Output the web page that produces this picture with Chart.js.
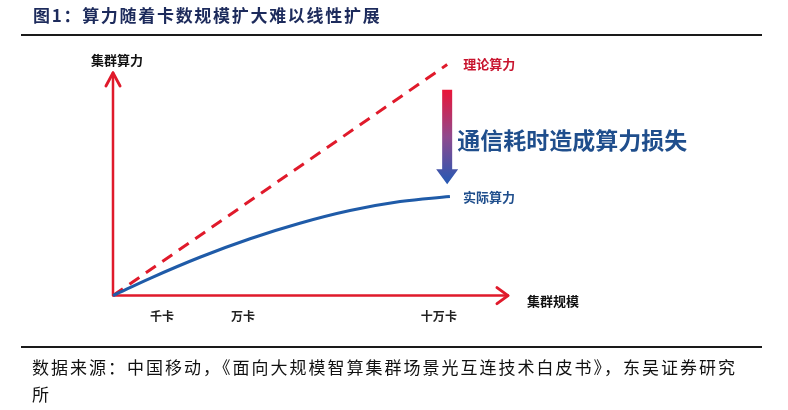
<!DOCTYPE html>
<html>
<head>
<meta charset="utf-8">
<script src="https://cdn.jsdelivr.net/npm/chart.js@4/dist/chart.umd.min.js"></script>
<style>
  body { margin: 0; background: #fff; }
  #wrap { position: relative; width: 788px; height: 410px; overflow: hidden; }
  #chart { position: absolute; left: 0; top: 0; }
  .title { position: absolute; left: 33px; top: 5px; font: bold 17px/20px 'Noto Sans CJK SC', sans-serif; letter-spacing: 1.7px; color: #1d2b5c; white-space: nowrap; }
  .rule { position: absolute; left: 21px; width: 741px; height: 2px; background: #1a1a1a; }
  .source { position: absolute; left: 32px; top: 353px; font: 17px/27px 'Noto Sans CJK SC', sans-serif; letter-spacing: 2px; color: #111; white-space: nowrap; }
</style>
</head>
<body>
<div id="wrap">
  <canvas id="chart" width="788" height="410"></canvas>
  <div class="title">图1：算力随着卡数规模扩大难以线性扩展</div>
  <div class="rule" style="top:34px"></div>
  <div class="rule" style="top:346px"></div>
  <div class="source">数据来源：中国移动，《面向大规模智算集群场景光互连技术白皮书》，东吴证券研究<br>所</div>
</div>
<script>
// cluster size (x) and compute (y), units
const tickPos = [12.4, 32.9, 82.5];
const tickLabels = ["千卡", "万卡", "十万卡"];

const theoryX = [0, 84.6];
const theoryPower = [0, 100];

const actualX = [0, 9.4, 22.0, 34.7, 47.3, 60.0, 72.7, 85.3];
const actualPower = [0, 7.5, 16.6, 24.6, 31.3, 36.8, 40.7, 42.9];

// axis arrow ends and the loss arrow (same units)
const xAxisEnd = 100;
const yAxisEnd = 96.4;
const lossArrow = { x: 84.6, top: 89.1, tip: 48.2 };

const RED = '#e01a2b';
const BLUE = '#1f5ba8';
const NAVY = '#1f4e8c';

Chart.defaults.font.family = "'Noto Sans CJK SC', sans-serif";

function toPoints(xs, ys) {
  return xs.map((x, i) => ({ x: x, y: ys[i] }));
}

// axes with arrow heads, labels, and the gradient arrow
const decorPlugin = {
  id: 'decor',
  beforeDatasetsDraw(chart) {
    const ctx = chart.ctx;
    const xs = chart.scales.x, ys = chart.scales.y;
    const ox = xs.getPixelForValue(0), oy = ys.getPixelForValue(0);
    const xe = xs.getPixelForValue(xAxisEnd), ye = ys.getPixelForValue(yAxisEnd);
    ctx.save();
    ctx.strokeStyle = RED;
    ctx.lineWidth = 2.5;
    ctx.lineCap = 'round';
    ctx.lineJoin = 'round';
    ctx.beginPath();
    ctx.moveTo(xe, oy); ctx.lineTo(ox, oy); ctx.lineTo(ox, ye);
    ctx.stroke();
    ctx.lineWidth = 3;
    ctx.beginPath();
    ctx.moveTo(ox - 7, ye + 13); ctx.lineTo(ox, ye); ctx.lineTo(ox + 7, ye + 13);
    ctx.moveTo(xe - 11, oy - 8); ctx.lineTo(xe, oy); ctx.lineTo(xe - 11, oy + 8);
    ctx.stroke();
    ctx.restore();
  },
  afterDatasetsDraw(chart) {
    const ctx = chart.ctx;
    const xs = chart.scales.x, ys = chart.scales.y;
    const ox = xs.getPixelForValue(0), oy = ys.getPixelForValue(0);
    const xe = xs.getPixelForValue(xAxisEnd), ye = ys.getPixelForValue(yAxisEnd);
    ctx.save();
    ctx.textBaseline = 'middle';
    ctx.font = "bold 13px 'Noto Sans CJK SC'";
    ctx.fillStyle = '#111';
    ctx.textAlign = 'center';
    ctx.fillText('集群算力', ox + 4, ye - 13);
    ctx.textAlign = 'left';
    ctx.fillText('集群规模', xe + 19, oy + 5);

    const n = theoryX.length - 1;
    const tx = xs.getPixelForValue(theoryX[n]), ty = ys.getPixelForValue(theoryPower[n]);
    ctx.fillStyle = '#c8142e';
    ctx.fillText('理论算力', tx + 16, ty);
    const m = actualX.length - 1;
    const ax = xs.getPixelForValue(actualX[m]), ay = ys.getPixelForValue(actualPower[m]);
    ctx.fillStyle = NAVY;
    ctx.fillText('实际算力', ax + 13, ay + 1);

    // loss arrow
    const lx = xs.getPixelForValue(lossArrow.x);
    const top = ys.getPixelForValue(lossArrow.top), tip = ys.getPixelForValue(lossArrow.tip);
    const grad = ctx.createLinearGradient(0, top, 0, tip);
    grad.addColorStop(0, '#ea1538');
    grad.addColorStop(0.5, '#8f4a8e');
    grad.addColorStop(1, '#2459b4');
    ctx.fillStyle = grad;
    ctx.beginPath();
    ctx.moveTo(lx - 5, top);
    ctx.lineTo(lx + 5, top);
    ctx.lineTo(lx + 5, tip - 15);
    ctx.lineTo(lx + 11, tip - 15);
    ctx.lineTo(lx, tip);
    ctx.lineTo(lx - 11, tip - 15);
    ctx.lineTo(lx - 5, tip - 15);
    ctx.closePath();
    ctx.fill();

    ctx.font = "bold 23px 'Noto Sans CJK SC'";
    ctx.fillStyle = NAVY;
    ctx.fillText('通信耗时造成算力损失', lx + 10, (top + tip) / 2 + 3);
    ctx.restore();
  }
};

new Chart(document.getElementById('chart'), {
  type: 'line',
  data: {
    datasets: [
      {
        label: '实际算力',
        data: toPoints(actualX, actualPower),
        borderColor: BLUE,
        borderWidth: 3,
        pointRadius: 0,
        tension: 0.4,
        fill: false,
        clip: false
      },
      {
        label: '理论算力',
        data: toPoints(theoryX, theoryPower),
        borderColor: RED,
        borderWidth: 3,
        borderDash: [12, 8],
        pointRadius: 0,
        fill: false,
        clip: false
      }
    ]
  },
  options: {
    responsive: false,
    animation: false,
    events: [],
    layout: { padding: { left: 113, right: 280, top: 53, bottom: 72 } },
    plugins: { legend: { display: false }, tooltip: { enabled: false } },
    scales: {
      x: {
        type: 'linear',
        min: 0,
        max: 100,
        grid: { display: false, drawTicks: false },
        border: { display: false },
        afterBuildTicks: (scale) => { scale.ticks = tickPos.map(v => ({ value: v })); },
        ticks: {
          padding: 14,
          autoSkip: false,
          maxRotation: 0,
          color: '#222',
          font: { size: 12, weight: 'bold' },
          callback: (v) => tickLabels[tickPos.indexOf(v)]
        }
      },
      y: { type: 'linear', min: 0, max: 105, display: false }
    }
  },
  plugins: [decorPlugin]
});
</script>
</body>
</html>
